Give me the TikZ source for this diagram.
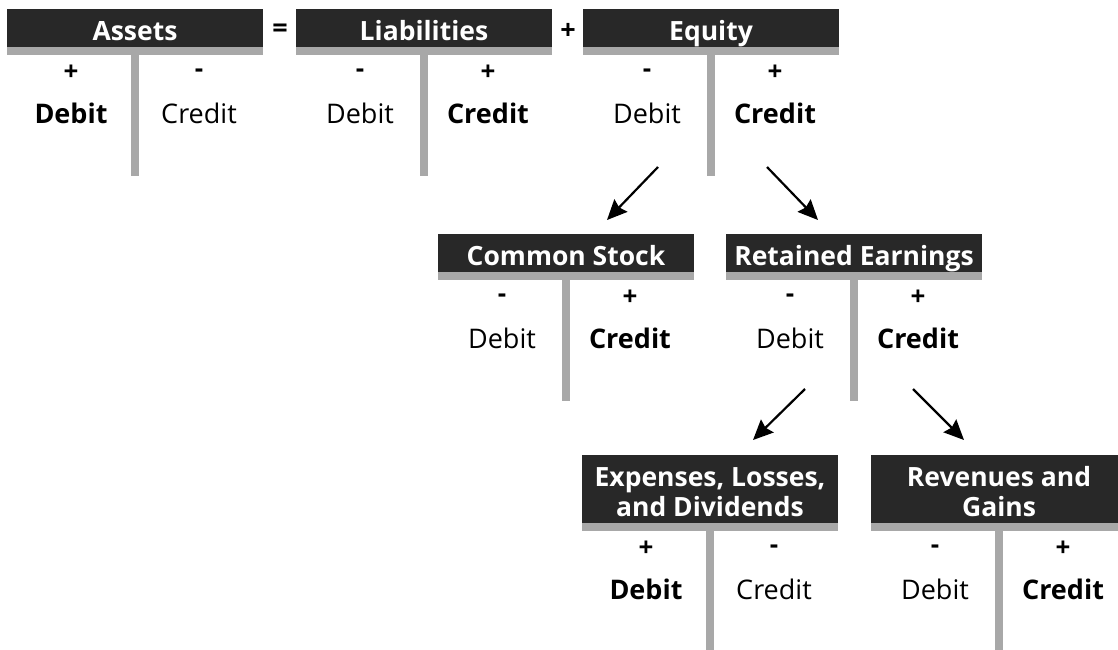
\documentclass[tikz,border=0pt]{standalone}
\usepackage{fontspec}
\setmainfont{Open Sans}
\usetikzlibrary{arrows.meta}
\definecolor{hdrfill}{HTML}{282828}
\definecolor{barfill}{HTML}{A8A8A8}
\tikzset{
  hdrtext/.style={text=white, font=\fontsize{26.5}{30}\selectfont\bfseries, anchor=base, align=center, inner sep=0pt},
  signtext/.style={font=\fontsize{26}{30}\selectfont\bfseries, inner sep=0pt},
  wordtext/.style={font=\fontsize{27}{30}\selectfont, anchor=base, inner sep=0pt},
  eqtext/.style={font=\fontsize{27}{30}\selectfont\bfseries, inner sep=0pt},
  flow/.style={line width=2.2pt, -{Stealth[length=20pt,width=18pt,inset=2.5pt]}},
}
% #1 name, #2 xl, #3 xr, #4 ytop, #5 dark bottom, #6 title, #7 last baseline, #8 debit-normal flag
\newcommand{\tacct}[8]{%
  \fill[hdrfill] (#2,#4) rectangle (#3,#5);
  \fill[barfill] (#2,#5) rectangle (#3,#5+7.5);
  \fill[barfill] ({(#2+#3)/2-3.8},#5+7) rectangle ({(#2+#3)/2+3.8},#5+129);
  \node[hdrtext] (#1) at ({(#2+#3)/2},#7) {#6};
  \ifnum#8=1
    \node[signtext] (#1-ls) at ({(3*#2+#3)/4},#5+26) {+};
    \node[wordtext] (#1-lw) at ({(3*#2+#3)/4},#5+76) {\textbf{Debit}};
    \node[signtext] (#1-rs) at ({(#2+3*#3)/4},#5+26) {-};
    \node[wordtext] (#1-rw) at ({(#2+3*#3)/4},#5+76) {Credit};
  \else
    \node[signtext] (#1-ls) at ({(3*#2+#3)/4},#5+26) {-};
    \node[wordtext] (#1-lw) at ({(3*#2+#3)/4},#5+76) {Debit};
    \node[signtext] (#1-rs) at ({(#2+3*#3)/4},#5+26) {+};
    \node[wordtext] (#1-rw) at ({(#2+3*#3)/4},#5+76) {\textbf{Credit}};
  \fi
}
\begin{document}
\begin{tikzpicture}[x=1pt,y=-1pt]
\clip (0,0) rectangle (1118,649);
\fill[white] (0,0) rectangle (1118,649);

\tacct{assets}{7}{263}{9}{47}{Assets}{40}{1}
\tacct{liab}{296}{552}{9}{47}{Liabilities}{40}{0}
\tacct{equity}{583}{839}{9}{47}{Equity}{40}{0}
\tacct{cstock}{438}{694}{234}{272}{Common Stock}{265}{0}
\tacct{retain}{726}{982}{234}{272}{Retained Earnings}{265}{0}
\tacct{expense}{582}{838}{455}{523}{Expenses, Losses,\\and Dividends}{516}{1}
\tacct{revenue}{871}{1127}{455}{523}{Revenues and\\Gains}{516}{0}

\node[eqtext] (eqsign) at (280,31) {=};
\node[eqtext] (plussign) at (568,31) {+};

\coordinate (eqL) at (658,167);
\coordinate (csIn) at (607,220);
\coordinate (eqR) at (767,167);
\coordinate (reIn) at (818,220);
\coordinate (reL) at (805,389);
\coordinate (exIn) at (753,440);
\coordinate (reR) at (913,389);
\coordinate (rvIn) at (964,440);

\draw[flow] (eqL) -- (csIn);
\draw[flow] (eqR) -- (reIn);
\draw[flow] (reL) -- (exIn);
\draw[flow] (reR) -- (rvIn);
\end{tikzpicture}
\end{document}
